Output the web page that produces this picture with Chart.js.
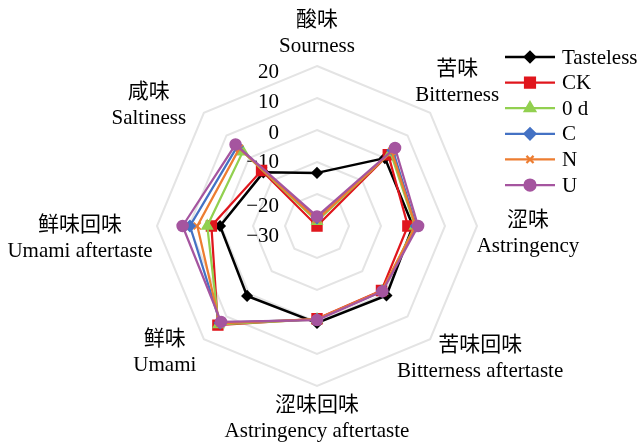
<!DOCTYPE html>
<html>
<head>
<meta charset="utf-8">
<script src="https://cdn.jsdelivr.net/npm/chart.js@4.4.0/dist/chart.umd.min.js"></script>
<style>
html, body { margin: 0; padding: 0; background: #fff; }
#myChart { display: block; }
</style>
</head>
<body>
<canvas id="myChart" width="640" height="443"></canvas>
<script>
// axis labels, clockwise from the top
const tastesCn = ["酸味", "苦味", "涩味", "苦味回味", "涩味回味", "鲜味", "鲜味回味", "咸味"]
const tastesEn = ["Sourness", "Bitterness", "Astringency", "Bitterness aftertaste", "Astringency aftertaste", "Umami", "Umami aftertaste", "Saltiness"]

const seriesNames = ["Tasteless", "CK", "0 d", "C", "N", "U"]

const tasteless = [-13.4, 0, 0, 0.7, 0.3, 0.9, 0.3, -6.3]
const ck = [-30, 1.5, -1.6, -1.5, -1, 13.8, 3, -5.5]
const day0 = [-28.5, 2.5, 0.6, -1.2, -0.8, 13.5, 4.3, 2.8]
const seriesC = [-27.5, 3.5, 1, -1.2, -0.8, 12.8, 9.7, 5.2]
const seriesN = [-28, 3, 0.8, -1.4, -0.9, 13, 7.4, 4.3]
const seriesU = [-27, 4.5, 1.6, -1.1, -0.6, 12.4, 12, 6]

const tickValues = [-30, -20, -10, 0, 10, 20]

const font = "21px 'Liberation Serif', 'Noto Sans CJK SC', serif"

const styles = [
  { color: "#000000", point: "rectRot", radius: 5, width: 2.5 },
  { color: "#e0161d", point: "rect", radius: 7, width: 2.25 },
  { color: "#92d050", point: "triangle", radius: 6, width: 2.25 },
  { color: "#4472c4", point: "rectRot", radius: 5.5, width: 2.25 },
  { color: "#ed7d31", point: "crossRot", radius: 5, width: 2.25 },
  { color: "#a5559f", point: "circle", radius: 5.5, width: 2.25 }
]

// label block shift from each outer vertex
const labelShift = [[0, -33], [27, -30], [51, 7], [50, 19], [0, 32], [-39, 13], [-77, 12], [-55, -7]]
// tick labels sit a little below their ring, as in the original
const tickShift = [10, 12, 0, 3, 4, 6]

function fmt(v) {
  return v < 0 ? "\u2212" + Math.abs(v) : String(v)
}

const textPlugin = {
  id: "texts",
  beforeDatasetsDraw(chart) {
    const ctx = chart.ctx
    const r = chart.scales.r
    ctx.save()
    ctx.fillStyle = "#000"
    ctx.font = font
    ctx.textAlign = "right"
    ctx.textBaseline = "middle"
    tickValues.forEach((v, i) => {
      const p = r.getPointPosition(0, r.getDistanceFromCenterForValue(v))
      ctx.fillText(fmt(v), p.x - 38, p.y + tickShift[i])
    })
    ctx.restore()
  },
  afterDraw(chart) {
    const ctx = chart.ctx
    const r = chart.scales.r
    ctx.save()
    ctx.fillStyle = "#000"
    ctx.font = font
    ctx.textAlign = "center"
    ctx.textBaseline = "middle"
    tastesCn.forEach((cn, i) => {
      const p = r.getPointPosition(i, r.drawingArea)
      const [dx, dy] = labelShift[i]
      ctx.fillText(cn, p.x + dx, p.y + dy - 13)
      ctx.fillText(tastesEn[i], p.x + dx, p.y + dy + 13)
    })

    // legend: line with marker like the original
    ctx.textAlign = "left"
    chart.data.datasets.forEach((ds, i) => {
      const y = 57 + i * 25.6
      ctx.strokeStyle = ds.borderColor
      ctx.lineWidth = ds.borderWidth
      ctx.beginPath()
      ctx.moveTo(505, y)
      ctx.lineTo(555, y)
      ctx.stroke()
      Chart.helpers.drawPoint(ctx, {
        pointStyle: ds.pointStyle,
        radius: ds.pointRadius,
        borderWidth: 1.5,
        rotation: 0
      }, 530, y)
      ctx.fillStyle = ds.borderColor
      ctx.fill()
      ctx.fillStyle = "#000"
      ctx.fillText(ds.label, 562, y + 1)
    })
    ctx.restore()
  }
}

const allValues = [tasteless, ck, day0, seriesC, seriesN, seriesU]

const ctx = document.getElementById("myChart").getContext("2d")

new Chart(ctx, {
  type: "radar",
  data: {
    labels: tastesEn,
    datasets: allValues.map((vals, i) => ({
      label: seriesNames[i],
      data: vals,
      borderColor: styles[i].color,
      backgroundColor: styles[i].color,
      pointBackgroundColor: styles[i].color,
      pointBorderColor: styles[i].color,
      pointStyle: styles[i].point,
      pointRadius: styles[i].radius,
      pointBorderWidth: 1.5,
      borderWidth: styles[i].width,
      fill: false,
      tension: 0,
      order: allValues.length - i
    }))
  },
  options: {
    responsive: false,
    animation: false,
    layout: { padding: { left: 157, right: 163, top: 66, bottom: 57 } },
    plugins: {
      legend: { display: false },
      tooltip: { enabled: false }
    },
    scales: {
      r: {
        min: -30,
        max: 20,
        ticks: { display: false, stepSize: 10 },
        pointLabels: { display: false },
        angleLines: { display: false },
        grid: { color: "#e4e4e4", lineWidth: 2 }
      }
    }
  },
  plugins: [textPlugin]
})
</script>
</body>
</html>
